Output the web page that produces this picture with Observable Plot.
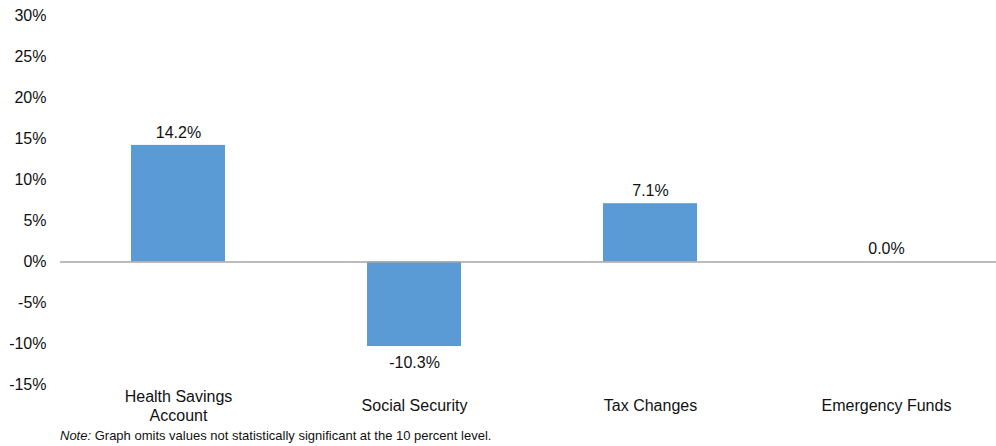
<!DOCTYPE html>
<html>
<head>
<meta charset="utf-8">
<script src="https://cdn.jsdelivr.net/npm/d3@7"></script>
<script src="https://cdn.jsdelivr.net/npm/@observablehq/plot@0.6"></script>
<style>
  html, body { margin: 0; padding: 0; background: #fff; overflow: hidden; }
  #chart svg { display: block; }
  #note { font-family: "Liberation Sans", Arial, sans-serif; font-size: 13px; color: #111; height: 20px; line-height: 20px; padding-left: 60px; white-space: nowrap; }
</style>
</head>
<body>
<div id="chart"></div>
<div id="note"><i>Note:</i> Graph omits values not statistically significant at the 10 percent level.</div>
<script>
const categories = ["Health Savings\nAccount", "Social Security", "Tax Changes", "Emergency Funds"];
const values = [14.2, -10.3, 7.1, 0.0];
const yTicks = [-15, -10, -5, 0, 5, 10, 15, 20, 25, 30];

const data = categories.map((c, i) => ({category: c, value: values[i]}));
const font = "Liberation Sans, Arial, sans-serif";

const chart = Plot.plot({
  width: 996,
  height: 426,
  marginLeft: 60,
  marginRight: 0,
  marginTop: 0,
  marginBottom: 0,
  style: {fontFamily: font, fontSize: "16px", color: "#111", background: "#fff"},
  x: {type: "band", domain: categories, range: [60.5, 1004.5], paddingInner: 0.6, paddingOuter: 0.3, axis: null},
  y: {domain: [-15, 30], range: [384.6, 15.2]},
  marks: [
    Plot.axisY({ticks: yTicks, tickSize: 0, tickPadding: 14, tickFormat: d => d + "%", label: null, fontSize: 16}),
    Plot.barY(data, {x: "category", y: "value", fill: "#5B9BD5"}),
    Plot.ruleY([0], {stroke: "#a6a6a6", strokeWidth: 1.5}),
    Plot.text(data, {x: "category", y: "value", text: d => d.value.toFixed(1) + "%",
      lineAnchor: "middle", fontSize: 16, fill: "#111"}),
    Plot.text(categories, {x: d => d, frameAnchor: "bottom", dy: -21, lineAnchor: "middle", lineHeight: 1.16, fontSize: 16, fill: "#111"})
  ]
});

// offset value labels above/below the bars
chart.querySelectorAll("g[aria-label='text']")[0].querySelectorAll("text").forEach((t, i) => {
  const v = values[i];
  t.setAttribute("transform", (t.getAttribute("transform") || "") + ` translate(0,${v < 0 ? 16 : -13})`);
});

document.getElementById("chart").appendChild(chart);
</script>
</body>
</html>
